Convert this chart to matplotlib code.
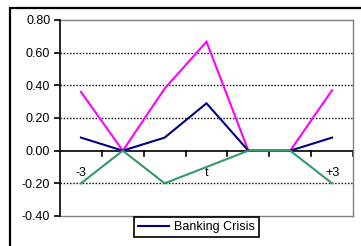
import matplotlib
matplotlib.use("Agg")
import matplotlib.pyplot as plt
from matplotlib.patches import Rectangle
from matplotlib.lines import Line2D

plt.rcParams['font.family'] = ['Liberation Sans', 'DejaVu Sans']

categories = ["-3", "", "", "t", "", "", "+3"]
series_pink = [0.36, 0.0, 0.38, 0.667, 0.0, 0.0, 0.37]
series_banking = [0.08, 0.0, 0.08, 0.29, 0.0, 0.0, 0.08]
series_green = [-0.20, 0.0, -0.20, -0.10, 0.0, 0.0, -0.20]
yticks = [0.8, 0.6, 0.4, 0.2, 0.0, -0.2, -0.4]
grid_levels = [0.6, 0.4, 0.2, -0.2]

W, H = 361, 246
fig = plt.figure(figsize=(W / 100, H / 100), dpi=100)
ax = fig.add_axes([60 / W, (H - 216) / H, 293 / W, 196 / H])

x = list(range(len(categories)))
ax.set_xlim(-0.5, len(categories) - 0.5)
ax.set_ylim(-0.4, 0.8)

for g in grid_levels:
    ax.axhline(g, color='black', lw=1.0, linestyle=(0, (1, 1.3)), zorder=1)

ax.plot(x, series_pink, color='#FF00FF', lw=1.5, zorder=3, solid_joinstyle='miter')
ax.plot(x, series_banking, color='#000080', lw=1.5, zorder=4, label='Banking Crisis', solid_joinstyle='miter')
ax.plot(x, series_green, color='#339966', lw=1.5, zorder=5, solid_joinstyle='miter')

for s in ['top', 'right']:
    ax.spines[s].set_color('#808080')
    ax.spines[s].set_linewidth(1.0)
ax.spines['left'].set_color('black')
ax.spines['left'].set_linewidth(1.2)
ax.spines['bottom'].set_visible(False)
ax.axhline(-0.4, color='#808080', lw=1.0, zorder=2, clip_on=False)
ax.spines['left'].set_zorder(6)

# zero axis
ax.axhline(0.0, color='black', lw=1.2, zorder=2)
for b in [i + 0.5 for i in range(len(categories))]:
    ax.plot([b, b], [0, -0.03], color='black', lw=1.2, zorder=2, clip_on=False)

ax.set_yticks(yticks)
ax.set_yticklabels([f"{v:.2f}" for v in yticks])
ax.tick_params(axis='y', direction='out', length=4, width=1.2, pad=3, labelsize=9, colors='black')
ax.set_xticks(x)
ax.set_xticklabels(categories)
ax.tick_params(axis='x', length=0, pad=-35, labelsize=9)

leg = ax.legend(handles=[Line2D([], [], color='#000080', lw=1.5)], labels=['Banking Crisis'],
                loc='center', bbox_to_anchor=((135 + 258) / 2 / W, 1 - 227 / H),
                bbox_transform=fig.transFigure, fancybox=False, framealpha=1,
                edgecolor='black', fontsize=9, handlelength=2.5, handletextpad=0.4,
                borderpad=0.3, borderaxespad=0)
leg.get_frame().set_linewidth(1.2)
leg.set_zorder(10)

fig.patches.append(Rectangle((10 / W, -0.5), 2, (1 - 8 / H) + 0.5, fill=False,
                             edgecolor='black', lw=1.6, transform=fig.transFigure))

fig.savefig('out.png', dpi=100)
